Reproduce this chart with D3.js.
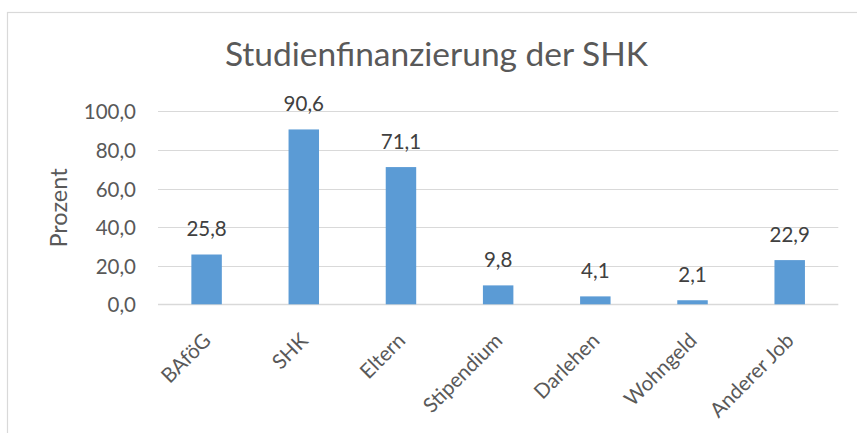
<!DOCTYPE html>
<html lang="de">
<head>
  <meta charset="utf-8">
  <title>Studienfinanzierung der SHK</title>
  <script src="https://d3js.org/d3.v7.min.js"></script>
  <style>
    body { margin: 0; background: #fff; }
    text { font-family: Lato, "Open Sans", sans-serif; }
  </style>
</head>
<body>
<svg width="857" height="433"></svg>
<script>

// data
var categories = ["BAföG", "SHK", "Eltern", "Stipendium", "Darlehen", "Wohngeld", "Anderer Job"];
var values = [25.8, 90.6, 71.1, 9.8, 4.1, 2.1, 22.9];
var yTicks = [0, 20, 40, 60, 80, 100];

var svg = d3.select("svg");

var de = d3.formatLocale({decimal: ",", thousands: ".", grouping: [3], currency: ["", " €"]});
var fmt = de.format(".1f");

var plotLeft = 158, plotRight = 838.3, plotTop = 111.3, plotBottom = 304.3;

var x = d3.scaleBand()
    .domain(categories)
    .range([plotLeft, plotRight])
    .paddingInner(0.6865)
    .paddingOuter(0.3433);

var y = d3.scaleLinear()
    .domain([0, 100])
    .range([plotBottom, plotTop]);

// chart frame (runs off the right and bottom edge)
svg.append("rect")
    .attr("x", 7.5).attr("y", 12.5)
    .attr("width", 900).attr("height", 500)
    .attr("fill", "none")
    .attr("stroke", "#d9d9d9")
    .attr("stroke-width", 1.2);

// title
svg.append("text")
    .attr("x", 436.5).attr("y", 66)
    .attr("text-anchor", "middle")
    .attr("fill", "#595959")
    .attr("font-size", 33.5)
    .text("Studienfinanzierung der SHK");

// gridlines
svg.append("g").selectAll("line")
    .data(yTicks)
    .enter().append("line")
    .attr("x1", plotLeft).attr("x2", plotRight)
    .attr("y1", function(d) { return Math.round(y(d)) + 0.5; })
    .attr("y2", function(d) { return Math.round(y(d)) + 0.5; })
    .attr("stroke", "#d9d9d9")
    .attr("stroke-width", function(d) { return d == 0 ? 1.5 : 1.2; });

// y tick labels
svg.append("g").selectAll("text")
    .data(yTicks)
    .enter().append("text")
    .attr("x", 136)
    .attr("y", function(d) { return y(d) + 8; })
    .attr("text-anchor", "end")
    .attr("fill", "#595959")
    .attr("font-size", 20.5)
    .text(function(d) { return fmt(d); });

// axis title
svg.append("text")
    .attr("transform", "translate(66.5,208) rotate(-90)")
    .attr("text-anchor", "middle")
    .attr("fill", "#595959")
    .attr("font-size", 23.5)
    .text("Prozent");

// bars
svg.append("g").selectAll("rect")
    .data(values)
    .enter().append("rect")
    .attr("x", function(d, i) { return x(categories[i]); })
    .attr("width", x.bandwidth())
    .attr("y", function(d) { return y(d); })
    .attr("height", function(d) { return y(0) - y(d); })
    .attr("fill", "#5b9bd5");

// data labels
svg.append("g").selectAll("text")
    .data(values)
    .enter().append("text")
    .attr("x", function(d, i) { return x(categories[i]) + x.bandwidth() / 2; })
    .attr("y", function(d) { return y(d) - 18.5; })
    .attr("text-anchor", "middle")
    .attr("fill", "#404040")
    .attr("font-size", 20.5)
    .text(function(d) { return fmt(d); });

// category labels, rotated
svg.append("g").selectAll("text")
    .data(categories)
    .enter().append("text")
    .attr("transform", function(d) {
        return "translate(" + (x(d) + x.bandwidth() / 2 + 5.5) + ",342) rotate(-45)";
    })
    .attr("text-anchor", "end")
    .attr("fill", "#595959")
    .attr("font-size", 20.5)
    .text(function(d) { return d; });

</script>
</body>
</html>
